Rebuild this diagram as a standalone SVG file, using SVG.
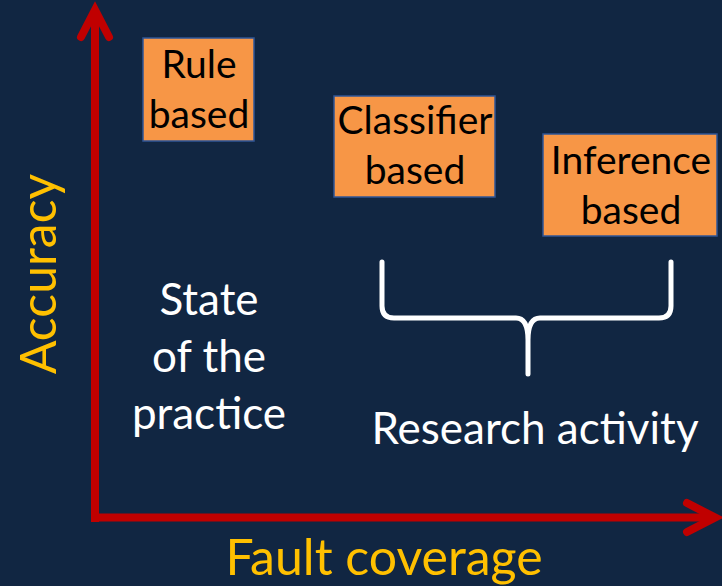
<svg xmlns="http://www.w3.org/2000/svg" width="722" height="586" viewBox="0 0 722 586">
  <style>
    .box { fill: #F79646; stroke: #2F5597; stroke-width: 1.5; }
    .boxtext { font-family: Lato, "Open Sans", sans-serif; font-size: 39px; fill: #000; text-anchor: middle; }
    .wtext { font-family: Lato, "Open Sans", sans-serif; font-size: 44px; fill: #fff; text-anchor: middle; }
    .gtext { font-family: Lato, "Open Sans", sans-serif; font-size: 50px; fill: #FFC000; text-anchor: middle; }
    .axis { fill: none; stroke: #C00000; stroke-width: 8; }
    .head { fill: none; stroke: #C00000; stroke-width: 8; stroke-linecap: round; stroke-linejoin: miter; }
  </style>
  <rect width="722" height="586" fill="#112642"/>

  <g id="connectors">
    <!-- axes -->
    <path class="axis" d="M95 522 V12"/>
    <path class="axis" d="M91 517.5 H712"/>
    <path class="head" d="M81 37 L95 10 L109 37"/>
    <path class="head" d="M687 503 L715 517.5 L687 532"/>
    <!-- brace grouping the research approaches -->
    <path d="M382 262 V306 Q382 318 394 318 H516 Q528 318 528 340 V374 V340 Q528 318 540 318 H659 Q671 318 671 306 V262" fill="none" stroke="#fff" stroke-width="5" stroke-linecap="round" stroke-linejoin="round"/>
  </g>

  <g id="rule">
    <rect class="box" x="143" y="38" width="111" height="103"/>
    <text class="boxtext" x="199" y="78">Rule</text>
    <text class="boxtext" x="199" y="128">based</text>
  </g>
  <g id="classifier">
    <rect class="box" x="334" y="96" width="161" height="101"/>
    <text class="boxtext" x="415" y="134">Classifier</text>
    <text class="boxtext" x="415" y="184">based</text>
  </g>
  <g id="inference">
    <rect class="box" x="543" y="134" width="174" height="102"/>
    <text class="boxtext" x="631" y="174">Inference</text>
    <text class="boxtext" x="631" y="224">based</text>
  </g>

  <g id="practice">
    <text class="wtext" x="209" y="315">State</text>
    <text class="wtext" x="209" y="372">of the</text>
    <text class="wtext" x="209" y="429">practice</text>
  </g>
  <g id="research">
    <text class="wtext" x="535" y="444">Research activity</text>
  </g>
  <g id="x-label">
    <text class="gtext" x="384" y="575">Fault coverage</text>
  </g>
  <g id="y-label">
    <text class="gtext" transform="translate(56 274) rotate(-90)" x="0" y="0">Accuracy</text>
  </g>
</svg>
